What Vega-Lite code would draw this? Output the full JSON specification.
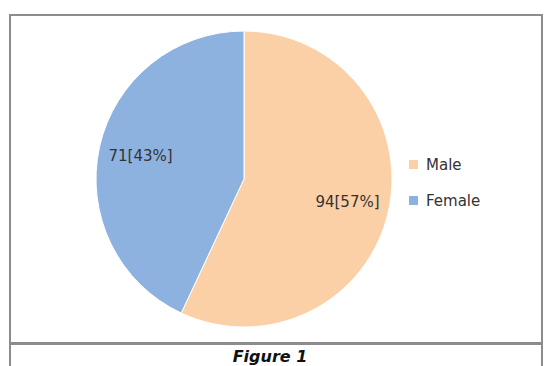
{
  "$schema": "https://vega.github.io/schema/vega-lite/v6.json",
  "background": "white",
  "padding": {"left": 9, "top": 14, "right": 6, "bottom": 0},
  "spacing": -3,
  "config": {
    "font": "DejaVu Sans",
    "view": {"stroke": "#8c8c8c", "strokeWidth": 2},
    "style": {"view": {"stroke": "#8c8c8c", "strokeWidth": 2}}
  },
  "resolve": {"scale": {"color": "independent"}, "legend": {"color": "independent"}},
  "vconcat": [
    {
      "width": 532,
      "height": 328,
      "data": {
        "values": [
          {"gender": "Male", "count": 94, "label": "94[57%]"},
          {"gender": "Female", "count": 71, "label": "71[43%]"}
        ]
      },
      "encoding": {
        "theta": {"field": "count", "type": "quantitative", "stack": true},
        "order": {"field": "gender", "sort": "descending"},
        "color": {
          "field": "gender",
          "type": "nominal",
          "sort": ["Male", "Female"],
          "scale": {"domain": ["Male", "Female"], "range": ["#FCD0A6", "#8EB2E0"]},
          "legend": {
            "orient": "none",
            "legendX": 396,
            "legendY": 142,
            "title": null,
            "symbolType": "square",
            "symbolSize": 81,
            "symbolStrokeWidth": 0,
            "labelFontSize": 15,
            "labelColor": "#333333",
            "labelOffset": 5,
            "rowPadding": 20
          }
        }
      },
      "layer": [
        {"mark": {"type": "arc", "outerRadius": 148, "x": 234, "stroke": "white", "strokeWidth": 1}},
        {
          "mark": {"type": "text", "radius": 106, "x": 234, "fontSize": 15},
          "encoding": {"text": {"field": "label"}, "color": {"value": "#333333"}}
        }
      ]
    },
    {
      "width": 532,
      "height": 26,
      "data": {"values": [{"caption": "Figure 1"}]},
      "mark": {"type": "text", "fontSize": 16, "fontWeight": "bold", "fontStyle": "italic", "dx": -6, "color": "#111111"},
      "encoding": {"text": {"field": "caption"}}
    }
  ]
}
